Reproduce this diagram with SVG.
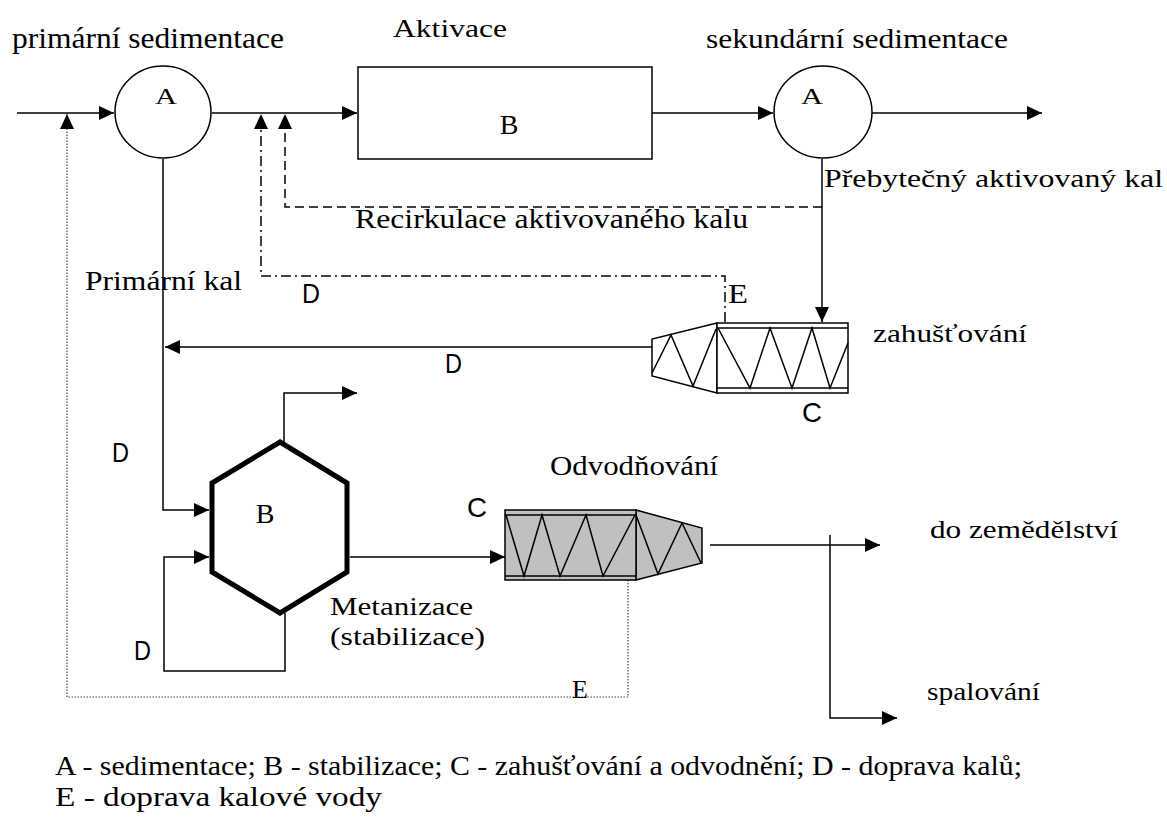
<svg xmlns="http://www.w3.org/2000/svg" width="1167" height="817" viewBox="0 0 1167 817">
<defs>
<marker id="ah" markerUnits="userSpaceOnUse" markerWidth="16" markerHeight="14" refX="15" refY="7" orient="auto">
<path d="M0,0 L15,7 L0,14 z" fill="#000"/>
</marker>
<style>
.ser{font-family:'Liberation Serif','Times New Roman',serif;fill:#000}
.san{font-family:'Liberation Sans',Arial,sans-serif;fill:#000}
.ln{fill:none;stroke:#000;stroke-width:1.5}
.arr{marker-end:url(#ah)}
.dash{stroke-dasharray:9 5}
.dashdot{stroke-dasharray:10 4 2 4}
.dot{fill:none;stroke:#444;stroke-width:1.2;stroke-dasharray:1.5 1.5}
.shape{fill:#fff;stroke:#000;stroke-width:1.5}
.gray{fill:#c0c0c0;stroke:#000;stroke-width:1.5}
</style>
</defs>
<rect width="1167" height="817" fill="#fff"/>

<g id="connectors">
<path class="ln arr" d="M17,113 H114"/>
<path class="ln arr" d="M212,113 H357"/>
<path class="ln arr" d="M652,113 H773"/>
<path class="ln arr" d="M872,113 H1042"/>
<path class="dot arr" d="M628,580 V697 H67 V114"/>
<path class="ln dashdot arr" d="M725,322 V276 H261 V114"/>
<path class="ln dash arr" d="M822,207 H285 V114"/>
<path class="ln arr" d="M822,159 V322"/>
<path class="ln arr" d="M652,347 H165"/>
<path class="ln arr" d="M163,159 V510 H209"/>
<path class="ln arr" d="M285,613 V671 H164 V557 H209"/>
<path class="ln arr" d="M284,442 V393 H357"/>
<path class="ln arr" d="M350,557 H505"/>
<path class="ln arr" d="M710,545 H880"/>
<path class="ln arr" d="M830,535 V718 H897"/>
</g>

<g id="primary-sedimentation">
<ellipse class="shape" cx="163" cy="112" rx="48" ry="46"/>
<text class="ser" font-family="Liberation Serif, serif" x="166" y="104" font-size="24" text-anchor="middle" textLength="22" lengthAdjust="spacingAndGlyphs">A</text>
</g>

<g id="activation">
<rect class="shape" x="358" y="67" width="294" height="92"/>
<text class="ser" font-family="Liberation Serif, serif" x="509" y="134" font-size="28" text-anchor="middle">B</text>
</g>

<g id="secondary-sedimentation">
<ellipse class="shape" cx="823" cy="112" rx="49" ry="46"/>
<text class="ser" font-family="Liberation Serif, serif" x="812" y="104" font-size="24" text-anchor="middle" textLength="22" lengthAdjust="spacingAndGlyphs">A</text>
</g>

<g id="thickener">
<polygon class="shape" points="717,323 652,339 652,376 717,393"/>
<rect class="shape" x="717" y="323" width="131" height="70"/>
<path class="ln" d="M717,328 H848 M717,388 H848"/>
<polyline class="ln" points="718,328 750,388 770,328 792,388 812,328 830,388 848,343"/>
<polyline class="ln" points="652,373 671,335 693,386 716,329"/>
</g>

<g id="digester">
<polygon points="280,442 347,483 347,572 280,613 212,572 212,483" fill="#fff" stroke="#000" stroke-width="5"/>
<text class="ser" font-family="Liberation Serif, serif" x="265" y="523" font-size="28" text-anchor="middle">B</text>
</g>

<g id="dewatering">
<polygon class="gray" points="636,510 702,528 702,563 636,580"/>
<rect class="gray" x="505" y="510" width="131" height="70"/>
<path class="ln" d="M505,515 H636 M505,576 H636"/>
<polyline class="ln" points="506,515 524,576 542,515 560,576 586,515 603,576 635,515"/>
<polyline class="ln" points="636,515 658,574 682,523 701,563"/>
</g>

<g id="labels" font-family="Liberation Serif, serif">
<text class="ser" x="12" y="48" font-size="30" textLength="272" lengthAdjust="spacingAndGlyphs">primární sedimentace</text>
<text class="ser" x="393" y="37" font-size="25" textLength="114" lengthAdjust="spacingAndGlyphs">Aktivace</text>
<text class="ser" x="706" y="48" font-size="28" textLength="302" lengthAdjust="spacingAndGlyphs">sekundární sedimentace</text>
<text class="ser" x="824" y="187" font-size="26" textLength="339" lengthAdjust="spacingAndGlyphs">Přebytečný aktivovaný kal</text>
<text class="ser" x="355" y="228" font-size="28" textLength="393" lengthAdjust="spacingAndGlyphs">Recirkulace aktivovaného kalu</text>
<text class="ser" x="85" y="290" font-size="27" textLength="157" lengthAdjust="spacingAndGlyphs">Primární kal</text>
<text class="san" font-family="Liberation Sans, sans-serif" x="302" y="303" font-size="28" textLength="18" lengthAdjust="spacingAndGlyphs">D</text>
<text class="ser" x="728" y="303" font-size="28" textLength="20" lengthAdjust="spacingAndGlyphs">E</text>
<text class="san" font-family="Liberation Sans, sans-serif" x="445" y="373" font-size="28" textLength="17" lengthAdjust="spacingAndGlyphs">D</text>
<text class="ser" x="873" y="342" font-size="25" textLength="154" lengthAdjust="spacingAndGlyphs">zahušťování</text>
<text class="san" font-family="Liberation Sans, sans-serif" x="802" y="422" font-size="28" textLength="20" lengthAdjust="spacingAndGlyphs">C</text>
<text class="san" font-family="Liberation Sans, sans-serif" x="112" y="462" font-size="28" textLength="17" lengthAdjust="spacingAndGlyphs">D</text>
<text class="ser" x="550" y="475" font-size="27" textLength="168" lengthAdjust="spacingAndGlyphs">Odvodňování</text>
<text class="san" font-family="Liberation Sans, sans-serif" x="467" y="517" font-size="28" textLength="20" lengthAdjust="spacingAndGlyphs">C</text>
<text class="ser" x="930" y="538" font-size="26" textLength="188" lengthAdjust="spacingAndGlyphs">do zemědělství</text>
<text class="ser" x="330" y="615" font-size="26" textLength="143" lengthAdjust="spacingAndGlyphs">Metanizace</text>
<text class="ser" x="330" y="645" font-size="26" textLength="155" lengthAdjust="spacingAndGlyphs">(stabilizace)</text>
<text class="san" font-family="Liberation Sans, sans-serif" x="134" y="660" font-size="28" textLength="17" lengthAdjust="spacingAndGlyphs">D</text>
<text class="ser" x="572" y="698" font-size="26">E</text>
<text class="ser" x="927" y="700" font-size="26" textLength="113" lengthAdjust="spacingAndGlyphs">spalování</text>
<text class="ser" x="55" y="775" font-size="27" textLength="967" lengthAdjust="spacingAndGlyphs">A - sedimentace; B - stabilizace; C - zahušťování a odvodnění; D - doprava kalů;</text>
<text class="ser" x="55" y="806" font-size="27" textLength="327" lengthAdjust="spacingAndGlyphs">E - doprava kalové vody</text>
</g>
</svg>
